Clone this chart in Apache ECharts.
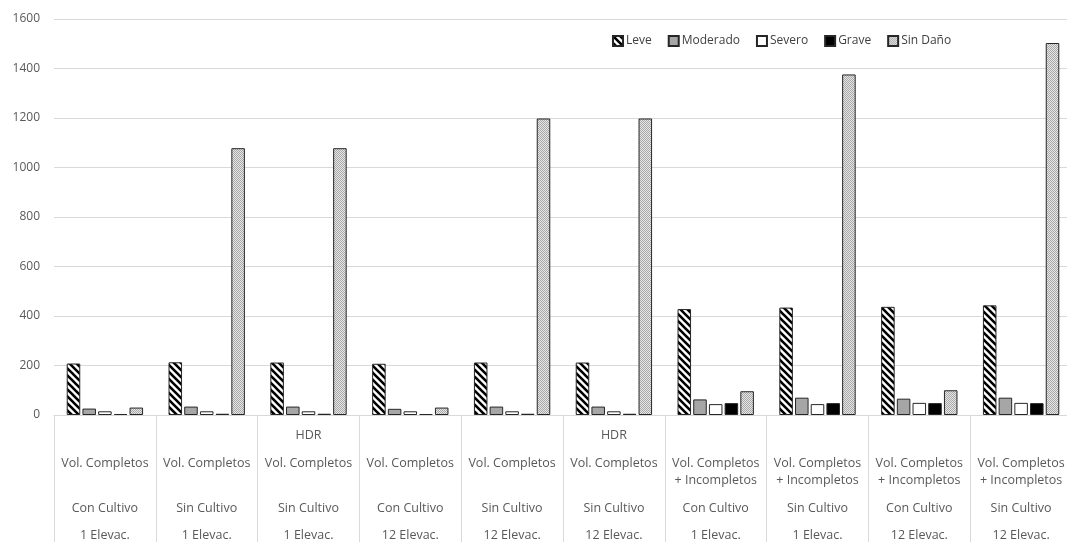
<!DOCTYPE html>
<html>
<head>
<meta charset="utf-8">
<script src="https://cdn.jsdelivr.net/npm/echarts@6/dist/echarts.min.js"></script>
<style>html,body{margin:0;padding:0;background:#fff}#c{width:1067px;height:542px}</style>
</head>
<body>
<div id="c"></div>
<script>
// ---- data ----
const rowTop    = ['', '', 'HDR', '', '', 'HDR', '', '', '', ''];
const rowVol1   = ['Vol. Completos','Vol. Completos','Vol. Completos','Vol. Completos','Vol. Completos','Vol. Completos','Vol. Completos','Vol. Completos','Vol. Completos','Vol. Completos'];
const rowVol2   = ['', '', '', '', '', '', '+ Incompletos', '+ Incompletos', '+ Incompletos', '+ Incompletos'];
const rowCult   = ['Con Cultivo','Sin Cultivo','Sin Cultivo','Con Cultivo','Sin Cultivo','Sin Cultivo','Con Cultivo','Sin Cultivo','Con Cultivo','Sin Cultivo'];
const rowElev   = ['1 Elevac.','1 Elevac.','1 Elevac.','12 Elevac.','12 Elevac.','12 Elevac.','1 Elevac.','1 Elevac.','12 Elevac.','12 Elevac.'];
const seriesNames = ['Leve', 'Moderado', 'Severo', 'Grave', 'Sin Daño'];
const leve     = [208, 213, 212, 207, 212, 212, 428, 434, 437, 443];
const moderado = [26, 34, 34, 25, 34, 34, 63, 70, 66, 70];
const severo   = [15, 15, 15, 15, 15, 15, 44, 44, 49, 49];
const grave    = [4, 5, 5, 4, 5, 5, 48, 48, 48, 48];
const sinDano  = [30, 1078, 1078, 30, 1198, 1198, 96, 1376, 100, 1503];
const yTicks = [0, 200, 400, 600, 800, 1000, 1200, 1400, 1600];

const categories = rowTop.map((t, i) => [t, rowVol1[i], rowVol2[i], rowCult[i], rowElev[i], i].join('|'));

// ---- patterns (style) ----
function stripePattern() {
  const s = 7, c = document.createElement('canvas');
  c.width = s; c.height = s;
  const g = c.getContext('2d');
  g.fillStyle = '#fff'; g.fillRect(0, 0, s, s);
  g.strokeStyle = '#000'; g.lineWidth = 2.6;
  g.beginPath();
  g.moveTo(-2, -2); g.lineTo(s + 2, s + 2);
  g.moveTo(-2 - s, -2); g.lineTo(2, s + 2);
  g.moveTo(-2, -2 - s); g.lineTo(s + 2, 2);
  g.moveTo(s - 2, -2); g.lineTo(2*s + 2, s + 2);
  g.moveTo(-2, s - 2); g.lineTo(s + 2, 2*s + 2);
  g.stroke();
  return { image: c, repeat: 'repeat' };
}
function dotPattern() {
  const c = document.createElement('canvas');
  c.width = 2; c.height = 2;
  const g = c.getContext('2d');
  g.fillStyle = '#e6e6e6'; g.fillRect(0, 0, 2, 2);
  g.fillStyle = '#a8a8a8'; g.fillRect(0, 0, 1, 1); g.fillRect(1, 1, 1, 1);
  return { image: c, repeat: 'repeat' };
}

const fills = [stripePattern(), '#a6a6a6', '#ffffff', '#000000', dotPattern()];
const values = [leve, moderado, severo, grave, sinDano];

const FONT = 'Open Sans';
const LF = 12.5;
const richStyle = lh => ({ lineHeight: lh, fontFamily: FONT, fontSize: LF, color: '#595959' });
const chart = echarts.init(document.getElementById('c'));
chart.setOption({
  animation: false,
  backgroundColor: '#fff',
  legend: {
    left: 607, top: 30,
    itemWidth: 10, itemHeight: 10, itemGap: 16,
    icon: 'rect',
    textStyle: { fontFamily: FONT, fontSize: 12, color: '#404040', padding: [0, 0, 0, -2] },
    data: seriesNames
  },
  grid: { left: 54, top: 19, width: 1018, height: 396, outerBoundsMode: 'none' },
  xAxis: {
    type: 'category',
    data: categories,
    boundaryGap: true,
    axisLine: { lineStyle: { color: '#d9d9d9', width: 1 } },
    axisTick: { show: true, alignWithLabel: false, interval: 0, length: 140, lineStyle: { color: '#d9d9d9' } },
    axisLabel: {
      interval: 0, margin: 1,
      verticalAlign: 'top',
      fontFamily: FONT, fontSize: LF, color: '#595959',
      formatter: function (v) {
        const p = v.split('|');
        return '{a|' + (p[0] || ' ') + '}\n{b|' + p[1] + '}\n{c|' + (p[2] || ' ') + '}\n{d|' + p[3] + '}\n{e|' + p[4] + '}';
      },
      rich: { a: richStyle(39), b: richStyle(17), c: richStyle(17), d: richStyle(39), e: richStyle(15) }
    }
  },
  yAxis: {
    type: 'value',
    min: yTicks[0], max: yTicks[yTicks.length - 1], interval: 200,
    axisLine: { show: false },
    axisTick: { show: false },
    axisLabel: { margin: 14, fontFamily: FONT, fontSize: 12, color: '#595959', formatter: v => String(v) },
    splitLine: { lineStyle: { color: '#d9d9d9', width: 1 } }
  },
  series: seriesNames.map((n, i) => ({
    name: n,
    type: 'bar',
    data: values[i],
    barCategoryGap: '25%',
    barGap: '16%',
    itemStyle: { color: fills[i], borderColor: '#262626', borderWidth: 1 }
  }))
});
</script>
</body>
</html>
